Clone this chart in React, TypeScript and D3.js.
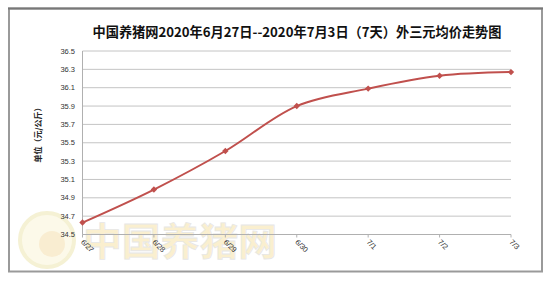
import React from "react";
import * as d3 from "d3";

const categories = ["6/27", "6/28", "6/29", "6/30", "7/1", "7/2", "7/3"];
const values = [34.63, 34.99, 35.41, 35.9, 36.09, 36.23, 36.27];
const yTicks = [34.5, 34.7, 34.9, 35.1, 35.3, 35.5, 35.7, 35.9, 36.1, 36.3, 36.5];
const title = "中国养猪网2020年6月27日--2020年7月3日（7天）外三元均价走势图";
const yTitle = "单位（元/公斤）";
const watermark = "中国养猪网";

export default function App() {
  const W = 550, H = 281;
  const left = 82.5, right = 511, top = 51, bottom = 234.5;
  const x = d3.scalePoint<string>().domain(categories).range([left, right]).padding(0);
  const y = d3.scaleLinear().domain([34.5, 36.5]).range([bottom, top]);
  const line = d3
    .line<number>()
    .x((_, i) => x(categories[i])!)
    .y((d) => y(d))
    .curve(d3.curveCatmullRom.alpha(0.5));
  const font = "'Liberation Sans', Arial, sans-serif";
  const red = "#c0504d";
  return (
    <div style={{ position: "absolute", left: 0, top: 0 }}>
      <svg width={W} height={H} style={{ display: "block" }}>
        <rect x={0} y={0} width={W} height={H} fill="#fff" />
        {/* frame */}
        <rect x={9} y={8.5} width={533} height={263} fill="#fff" stroke="#9a9a9a" strokeWidth={2} />
        <line x1={8} x2={543} y1={8.5} y2={8.5} stroke="#777" strokeWidth={2} />
        {/* watermark */}
        <g opacity={0.6}>
          <circle cx={47} cy={240} r={27} fill="#fbf6dc" stroke="#efe9b8" strokeWidth={4} />
          <circle cx={52} cy={244} r={13} fill="#f6e2b4" />
          <text x={83} y={255} fontSize={38} fontWeight="bold" fill="#f7e6b0"
            fontFamily="'Noto Sans CJK SC', sans-serif" stroke="#d8d8d8" strokeWidth={0.8}
            textLength={194} lengthAdjust="spacingAndGlyphs">
            {watermark}
          </text>
        </g>
        {/* title */}
        <text x={297} y={36.5} textAnchor="middle" fontSize={13.5} fontWeight="bold"
          fontFamily="'Noto Sans CJK SC', sans-serif" fill="#111"
          textLength={409} lengthAdjust="spacingAndGlyphs">
          {title}
        </text>
        {/* gridlines */}
        {yTicks.map((t) => (
          <line key={"g" + t} x1={left} x2={right} y1={y(t)} y2={y(t)} stroke="#c4c4c4" strokeWidth={1} />
        ))}
        {/* left axis */}
        <line x1={left} x2={left} y1={top} y2={bottom} stroke="#b0b0b0" strokeWidth={1} />
        {/* bottom axis */}
        <line x1={left} x2={right} y1={bottom} y2={bottom} stroke="#b0b0b0" strokeWidth={1} />
        {categories.map((c) => (
          <line key={"t" + c} x1={x(c)!} x2={x(c)!} y1={bottom} y2={bottom + 3} stroke="#b0b0b0" />
        ))}
        {/* y tick labels */}
        {yTicks.map((t) => (
          <text key={"l" + t} x={75} y={y(t) + 2.5} textAnchor="end" fontSize={7.5}
            fontFamily={font} fill="#333">
            {t.toFixed(1)}
          </text>
        ))}
        {/* x tick labels */}
        {categories.map((c) => (
          <text key={"x" + c} transform={`translate(${x(c)! - 2},${bottom + 8}) rotate(45)`}
            fontSize={7.5} fontFamily={font} fill="#333">
            {c}
          </text>
        ))}
        {/* y title */}
        <text transform={`translate(41,${133}) rotate(-90)`} textAnchor="middle" fontSize={8}
          fontWeight="bold" fontFamily="'Noto Sans CJK SC', sans-serif" fill="#222">
          {yTitle}
        </text>
        {/* series */}
        <path d={line(values)!} fill="none" stroke={red} strokeWidth={2} />
        {values.map((v, i) => {
          const cx = x(categories[i])!, cy = y(v);
          return (
            <path key={"m" + i} d={`M${cx},${cy - 3.2}L${cx + 3.2},${cy}L${cx},${cy + 3.2}L${cx - 3.2},${cy}Z`}
              fill={red} />
          );
        })}
      </svg>
    </div>
  );
}
